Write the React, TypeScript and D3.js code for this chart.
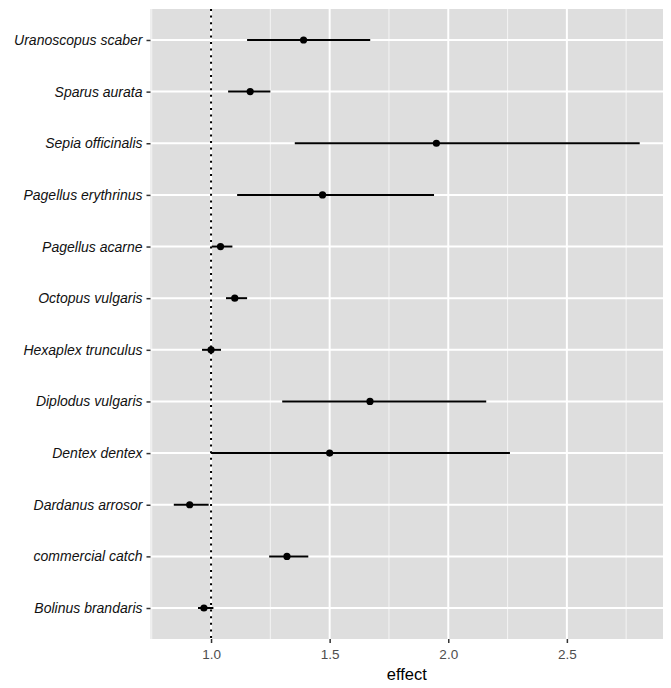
import React, { useEffect, useRef } from 'react';
import * as d3 from 'd3';

// species listed top to bottom
const species = [
  'Uranoscopus scaber',
  'Sparus aurata',
  'Sepia officinalis',
  'Pagellus erythrinus',
  'Pagellus acarne',
  'Octopus vulgaris',
  'Hexaplex trunculus',
  'Diplodus vulgaris',
  'Dentex dentex',
  'Dardanus arrosor',
  'commercial catch',
  'Bolinus brandaris',
];
const effect = [1.39, 1.165, 1.95, 1.47, 1.04, 1.1, 1.0, 1.67, 1.5, 0.91, 1.32, 0.97];
const lower = [1.152, 1.072, 1.353, 1.11, 1.003, 1.063, 0.962, 1.3, 1.0, 0.843, 1.245, 0.945];
const upper = [1.671, 1.25, 2.807, 1.94, 1.09, 1.152, 1.042, 2.16, 2.26, 0.99, 1.41, 1.01];
const xTicks = [1.0, 1.5, 2.0, 2.5];
const xMinor = [0.75, 1.25, 1.75, 2.25, 2.75];

const App: React.FC = () => {
  const svgRef = useRef<SVGSVGElement>(null);

  useEffect(() => {
    const width = 671;
    const height = 688;
    const marginTop = 9;
    const marginRight = 8;
    const marginBottom = 49;
    const marginLeft = 150.5;

    const svg = d3.select(svgRef.current)
      .attr('width', width)
      .attr('height', height)
      .attr('viewBox', [0, 0, width, height]);
    svg.selectAll('*').remove();

    // ggplot style 5% expansion around the data range
    const lo = d3.min(lower)!;
    const hi = d3.max(upper)!;
    const pad = (hi - lo) * 0.05;
    const x = d3.scaleLinear().domain([lo - pad, hi + pad])
      .range([marginLeft, width - marginRight]);
    const y = d3.scalePoint<string>().domain(species)
      .range([marginTop, height - marginBottom]).padding(0.6);

    const font = '"Liberation Sans", Arial, Helvetica, sans-serif';

    svg.append('rect')
      .attr('x', marginLeft).attr('y', marginTop)
      .attr('width', width - marginRight - marginLeft)
      .attr('height', height - marginBottom - marginTop)
      .attr('fill', '#dedede');

    // grid
    svg.append('g').selectAll('line').data(xMinor).join('line')
      .attr('x1', d => x(d)).attr('x2', d => x(d))
      .attr('y1', marginTop).attr('y2', height - marginBottom)
      .attr('stroke', '#f4f4f4').attr('stroke-width', 1);
    svg.append('g').selectAll('line').data(xTicks).join('line')
      .attr('x1', d => x(d)).attr('x2', d => x(d))
      .attr('y1', marginTop).attr('y2', height - marginBottom)
      .attr('stroke', '#fff').attr('stroke-width', 2);
    svg.append('g').selectAll('line').data(species).join('line')
      .attr('x1', marginLeft).attr('x2', width - marginRight)
      .attr('y1', d => y(d)!).attr('y2', d => y(d)!)
      .attr('stroke', '#fff').attr('stroke-width', 2);

    // reference line at no effect
    svg.append('line')
      .attr('x1', x(1)).attr('x2', x(1))
      .attr('y1', marginTop).attr('y2', height - marginBottom)
      .attr('stroke', '#000').attr('stroke-width', 2)
      .attr('stroke-dasharray', '2 4.6');

    // intervals and points
    const rows = species.map((s, i) => ({ s, e: effect[i], l: lower[i], u: upper[i] }));
    svg.append('g').selectAll('line').data(rows).join('line')
      .attr('x1', d => x(d.l)).attr('x2', d => x(d.u))
      .attr('y1', d => y(d.s)!).attr('y2', d => y(d.s)!)
      .attr('stroke', '#000').attr('stroke-width', 2);
    svg.append('g').selectAll('circle').data(rows).join('circle')
      .attr('cx', d => x(d.e)).attr('cy', d => y(d.s)!)
      .attr('r', 3.6).attr('fill', '#000');

    // x axis
    const xAxis = svg.append('g')
      .attr('transform', `translate(0,${height - marginBottom})`)
      .call(d3.axisBottom(x).tickValues(xTicks).tickFormat(d3.format('.1f')).tickSize(4).tickPadding(6));
    xAxis.select('.domain').remove();
    xAxis.selectAll('line').attr('stroke', '#333').attr('stroke-width', 1.5);
    xAxis.selectAll('text')
      .attr('fill', '#4d4d4d').style('font-family', font).style('font-size', '13.5px');

    // y axis
    const yAxis = svg.append('g')
      .attr('transform', `translate(${marginLeft},0)`)
      .call(d3.axisLeft(y).tickSize(4).tickPadding(4));
    yAxis.select('.domain').remove();
    yAxis.selectAll('line').attr('stroke', '#333').attr('stroke-width', 1.5);
    yAxis.selectAll('text')
      .attr('fill', '#111').style('font-family', font).style('font-size', '14px')
      .style('font-style', 'italic');

    svg.append('text')
      .attr('x', (marginLeft + width - marginRight) / 2)
      .attr('y', 680)
      .attr('text-anchor', 'middle')
      .attr('fill', '#000')
      .style('font-family', font).style('font-size', '16.5px')
      .text('effect');
  }, []);

  return <svg ref={svgRef} style={{ position: 'absolute', left: 0, top: 0, background: '#fff' }}></svg>;
};

export default App;
